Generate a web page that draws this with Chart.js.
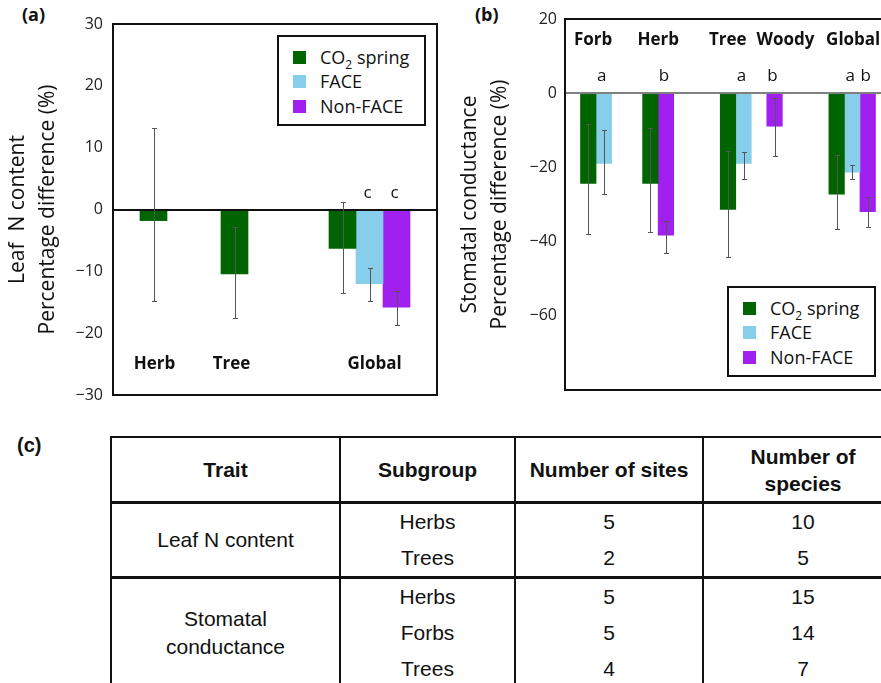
<!DOCTYPE html>
<html>
<head>
<meta charset="utf-8">
<script src="https://cdn.jsdelivr.net/npm/chart.js@4.4.1/dist/chart.umd.min.js"></script>
<style>
  html, body { margin: 0; padding: 0; background: #fff; overflow: hidden; }
  #page { position: relative; width: 881px; height: 683px; overflow: hidden; background: #fff; }
  .panel { position: absolute; top: 0; }
  .tag { position: absolute; font-weight: 700; color: #111; }
  .legend { position: absolute; width: 149px; height: 91px; border: 2px solid #111; background: #fff;
            box-sizing: border-box; font-family: 'Open Sans', sans-serif; font-size: 18px; color: #111; }
  .legend .sw { position: absolute; left: 14px; width: 13px; height: 13px; }
  .legend .tx { position: absolute; left: 41px; line-height: 20px; white-space: nowrap; }
  #tbl { position: absolute; left: 110px; top: 436px; border-collapse: collapse; table-layout: fixed;
         font-family: 'Liberation Sans', Arial, sans-serif; font-size: 21px; color: #111; }
  #tbl td, #tbl th { border-left: 2px solid #111; border-right: 2px solid #111; text-align: center;
                     padding: 0 10px; vertical-align: middle; }
  #tbl th { font-weight: 700; height: 63px; line-height: 27px; border-top: 2px solid #111; border-bottom: 3px solid #111; }
  #tbl td { height: 36px; line-height: 22px; }
  #tbl tr.first td { border-top: 3px solid #111; }
</style>
</head>
<body>
<div id="page">
  <div class="tag" style="left:22px; top:2px; font-family:'Open Sans',sans-serif; font-size:18px;">(a)</div>
  <div class="tag" style="left:475px; top:2px; font-family:'Open Sans',sans-serif; font-size:18px;">(b)</div>
  <div class="tag" style="left:17px; top:434px; font-family:'Liberation Sans',Arial,sans-serif; font-size:20px;">(c)</div>
  <div class="panel" style="left:0;"><canvas id="chartA" width="440" height="420"></canvas></div>
  <div class="panel" style="left:440px;"><canvas id="chartB" width="461" height="420"></canvas></div>
  <table id="tbl"></table>
</div>
<script>
// Series shared by both panels
const seriesNames = ['CO₂ spring', 'FACE', 'Non-FACE'];
const seriesColors = ['#006400', '#87CEEB', '#A020F0'];

// (a) Leaf N content, percentage difference
const catsA = ['Herb', 'Tree', 'Global'];
const springA = [-1.8, -10.4, -6.3];
const faceA = [null, null, -12.0];
const nonFaceA = [null, null, -15.8];
const springLoA = [-14.8, -17.5, -13.5];
const springHiA = [13.1, -2.8, 1.2];
const faceLoA = [null, null, -14.8];
const faceHiA = [null, null, -9.4];
const nonFaceLoA = [null, null, -18.6];
const nonFaceHiA = [null, null, -13.2];
const faceLetA = [null, null, 'c'];
const nonFaceLetA = [null, null, 'c'];

// (b) Stomatal conductance, percentage difference
const catsB = ['Forb', 'Herb', 'Tree', 'Woody', 'Global'];
const springB = [-24.3, -24.3, -31.3, null, -27.2];
const faceB = [-18.9, null, -18.9, null, -21.3];
const nonFaceB = [null, -38.3, null, -8.9, -31.9];
const springLoB = [-38.0, -37.3, -44.2, null, -36.7];
const springHiB = [-8.2, -9.3, -15.5, null, -16.6];
const faceLoB = [-27.2, null, -23.0, null, -23.0];
const faceHiB = [-10.0, null, -15.9, null, -19.3];
const nonFaceLoB = [null, -43.0, null, -16.9, -36.0];
const nonFaceHiB = [null, -34.4, null, -1.3, -28.1];
const faceLetB = ['a', null, 'a', null, 'a'];
const nonFaceLetB = [null, 'b', null, 'b', 'b'];

// (c) table
const tableHeaders = ['Trait', 'Subgroup', 'Number of sites', 'Number of species'];
const traitNames = ['Leaf N content', 'Stomatal conductance'];
const subgroups = [['Herbs', 'Trees'], ['Herbs', 'Forbs', 'Trees']];
const nSites = [[5, 2], [5, 5, 4]];
const nSpecies = [[10, 5], [15, 14, 7]];

// layout: empty bar slots before each group, and after the last
const gapsA = [1, 2, 3], trailA = 1, nudgeA = [1, -3, 5];
const gapsB = [1, 2, 3, 1, 3], trailB = 1, nudgeB = [-3, 0, -8, 11, 1];

const axisFont = "'Open Sans', sans-serif";

function slotLayout(cats, series, gaps, trailing) {
    const labels = [];
    const slots = series.map(() => []);
    const groups = [];
    cats.forEach((c, ci) => {
        for (let g = 0; g < gaps[ci]; g++) labels.push('');
        const members = [];
        series.forEach((s, si) => {
            if (s[ci] !== null) {
                slots[si][ci] = labels.length;
                members.push(labels.length);
                labels.push(c);
            } else {
                slots[si][ci] = null;
            }
        });
        groups.push(members);
    });
    for (let g = 0; g < trailing; g++) labels.push('');
    return { labels, slots, groups };
}

const panelExtras = {
    id: 'panelExtras',
    afterDatasetsDraw(chart, args, o) {
        const { ctx, chartArea: a, scales: { x, y } } = chart;
        ctx.save();
        // linea del cero
        const y0 = Math.round(y.getPixelForValue(0));
        ctx.strokeStyle = o.zeroColor;
        ctx.lineWidth = 2;
        ctx.beginPath(); ctx.moveTo(a.left, y0); ctx.lineTo(a.right, y0); ctx.stroke();

        // barras de error
        ctx.strokeStyle = '#555';
        ctx.lineWidth = 1;
        o.lo.forEach((loArr, si) => {
            const meta = chart.getDatasetMeta(si);
            loArr.forEach((lo, ci) => {
                const slot = o.slots[si][ci];
                if (lo === null || slot === null) return;
                const bx = Math.round(meta.data[slot].x) + 0.5;
                const yl = Math.round(y.getPixelForValue(lo)) + 0.5;
                const yh = Math.round(y.getPixelForValue(o.hi[si][ci])) + 0.5;
                ctx.beginPath();
                ctx.moveTo(bx, yl); ctx.lineTo(bx, yh);
                ctx.moveTo(bx - 2.5, yl); ctx.lineTo(bx + 2.5, yl);
                ctx.moveTo(bx - 2.5, yh); ctx.lineTo(bx + 2.5, yh);
                ctx.stroke();
            });
        });

        // letras de significancia
        ctx.fillStyle = '#111';
        ctx.font = "17px " + axisFont;
        ctx.textAlign = 'center';
        ctx.textBaseline = 'middle';
        o.letters.forEach((letArr, si) => {
            const meta = chart.getDatasetMeta(si);
            letArr.forEach((l, ci) => {
                const slot = o.slots[si][ci];
                if (!l || slot === null) return;
                ctx.fillText(l, meta.data[slot].x - 2, y0 - 17);
            });
        });

        // nombres de grupo
        ctx.font = "bold 17px " + axisFont;
        const cy = y.getPixelForValue(o.catY);
        o.groups.forEach((members, ci) => {
            const cx = members.reduce((s, m) => s + x.getPixelForValue(m), 0) / members.length;
            ctx.fillText(o.cats[ci], cx + o.nudge[ci], cy);
        });

        // marco
        ctx.strokeStyle = '#111';
        ctx.lineWidth = 2;
        ctx.strokeRect(a.left, a.top, a.width, a.height);
        ctx.restore();
    }
};

function makePanel(id, cfg) {
    const series = cfg.series;
    const lay = slotLayout(cfg.cats, series, cfg.gaps, cfg.trailing);
    const datasets = series.map((s, si) => {
        const data = new Array(lay.labels.length).fill(null);
        s.forEach((v, ci) => { if (v !== null) data[lay.slots[si][ci]] = v; });
        return {
            label: seriesNames[si],
            data: data,
            backgroundColor: seriesColors[si],
            borderWidth: 0,
            grouped: false,
            categoryPercentage: 1.0,
            barPercentage: 1.0
        };
    });

    return new Chart(document.getElementById(id), {
        type: 'bar',
        data: { labels: lay.labels, datasets: datasets },
        options: {
            responsive: false,
            animation: false,
            layout: { padding: cfg.padding },
            plugins: {
                legend: { display: false },
                tooltip: { enabled: false },
                panelExtras: {
                    lo: cfg.lo, hi: cfg.hi, letters: cfg.letters, slots: lay.slots,
                    groups: lay.groups, cats: cfg.cats, nudge: cfg.nudge,
                    catY: cfg.catY, zeroColor: cfg.zeroColor
                }
            },
            scales: {
                x: { display: false },
                y: {
                    min: cfg.min, max: cfg.max,
                    afterFit: s => { s.width = cfg.axisWidth; },
                    border: { display: false },
                    grid: { display: false, drawTicks: false },
                    ticks: {
                        stepSize: cfg.step,
                        padding: cfg.tickPad,
                        color: '#222',
                        font: { family: axisFont, size: 16 },
                        callback: v => (v === cfg.hideTick ? '' : String(v).replace('-', '\u2212'))
                    },
                    title: {
                        display: true,
                        text: cfg.title,
                        color: '#111',
                        font: { family: axisFont, size: 21, lineHeight: 1.43 },
                        padding: { top: cfg.titlePad, bottom: 0 }
                    }
                }
            }
        },
        plugins: [panelExtras]
    });
}

makePanel('chartA', {
    cats: catsA,
    series: [springA, faceA, nonFaceA],
    lo: [springLoA, faceLoA, nonFaceLoA],
    hi: [springHiA, faceHiA, nonFaceHiA],
    letters: [[null, null, null], faceLetA, nonFaceLetA],
    gaps: gapsA, trailing: trailA, nudge: nudgeA,
    min: -30, max: 30, step: 10, hideTick: null,
    catY: -25, zeroColor: '#111',
    axisWidth: 113, tickPad: 10, titlePad: 3,
    title: ['Leaf  N content', 'Percentage difference (%)'],
    padding: { top: 24, bottom: 25, left: 0, right: 3 }
});

makePanel('chartB', {
    cats: catsB,
    series: [springB, faceB, nonFaceB],
    lo: [springLoB, faceLoB, nonFaceLoB],
    hi: [springHiB, faceHiB, nonFaceHiB],
    letters: [[null, null, null, null, null], faceLetB, nonFaceLetB],
    gaps: gapsB, trailing: trailB, nudge: nudgeB,
    min: -80, max: 20, step: 20, hideTick: -80,
    catY: 14.3, zeroColor: '#808080',
    axisWidth: 125, tickPad: 8, titlePad: 15,
    title: ['Stomatal conductance', 'Percentage difference (%)'],
    padding: { top: 19, bottom: 30, left: 0, right: 10 }
});

// Leyendas dentro de los paneles
function makeLegend(left, top) {
    const box = document.createElement('div');
    box.className = 'legend';
    box.style.left = left + 'px';
    box.style.top = top + 'px';
    const rowY = [22, 46, 71];
    seriesNames.forEach((name, i) => {
        const sw = document.createElement('div');
        sw.className = 'sw';
        sw.style.top = (rowY[i] - 6.5 - 2) + 'px';
        sw.style.background = seriesColors[i];
        const tx = document.createElement('div');
        tx.className = 'tx';
        tx.style.top = (rowY[i] - 10 - 2) + 'px';
        tx.innerHTML = name.replace('₂', '<sub style="font-size:12px;line-height:0">2</sub>');
        box.appendChild(sw);
        box.appendChild(tx);
    });
    document.getElementById('page').appendChild(box);
}
makeLegend(277, 35);
makeLegend(727, 286);

// Tabla (c)
const tbl = document.getElementById('tbl');
const colW = [229, 175, 188, 200];
tbl.style.width = colW.reduce((s, w) => s + w, 0) + 'px';
const cg = document.createElement('colgroup');
colW.forEach(w => { const c = document.createElement('col'); c.style.width = w + 'px'; cg.appendChild(c); });
tbl.appendChild(cg);
const hr = document.createElement('tr');
tableHeaders.forEach(h => { const th = document.createElement('th'); th.textContent = h; hr.appendChild(th); });
tbl.appendChild(hr);
traitNames.forEach((t, ti) => {
    subgroups[ti].forEach((sg, ri) => {
        const tr = document.createElement('tr');
        if (ri === 0) {
            tr.className = 'first';
            const td = document.createElement('td');
            td.rowSpan = subgroups[ti].length;
            td.textContent = t;
            td.style.padding = '0 22px';
            td.style.lineHeight = '28px';
            tr.appendChild(td);
        }
        [sg, nSites[ti][ri], nSpecies[ti][ri]].forEach(v => {
            const td = document.createElement('td');
            td.textContent = v;
            tr.appendChild(td);
        });
        tbl.appendChild(tr);
    });
});
</script>
</body>
</html>
